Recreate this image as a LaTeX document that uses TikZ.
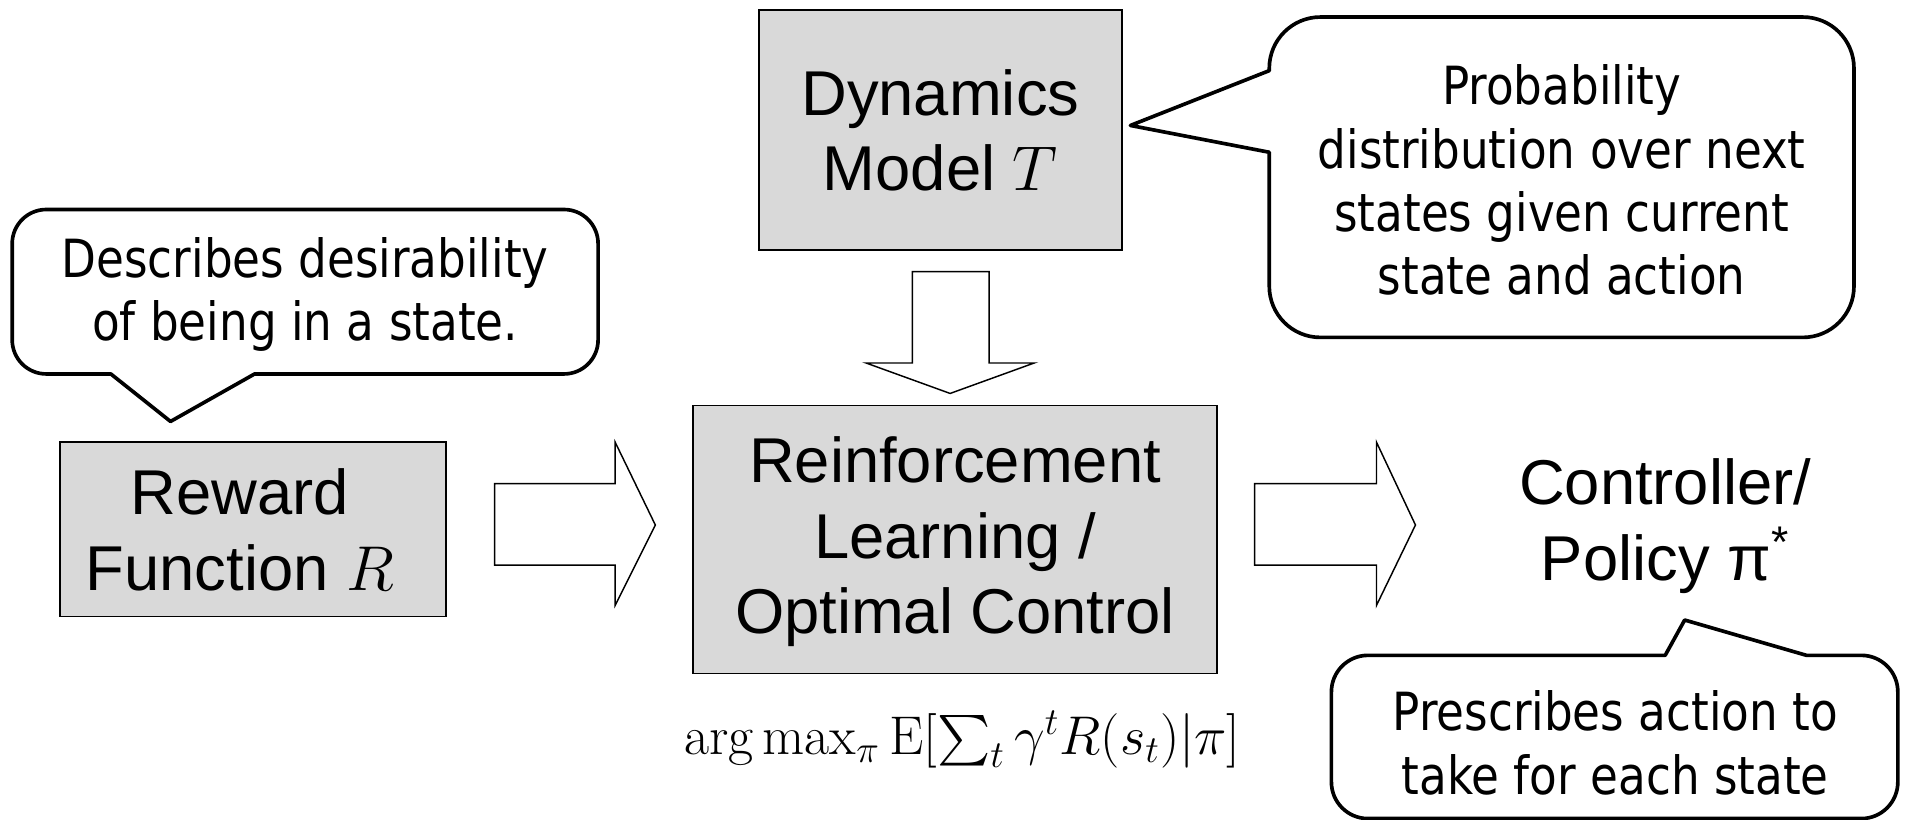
\RequirePackage{fix-cm}
\documentclass[tikz,border=0pt]{standalone}
\usepackage{exscale}
\usepackage{fontspec}
\newfontfamily\mainsf{Liberation Sans}
\newfontfamily\callfont[FakeStretch=0.86]{DejaVu Sans}
\definecolor{boxgray}{HTML}{D9D9D9}
\tikzset{
  boxnode/.style={draw=black, line width=0.7pt, fill=boxgray, inner sep=0pt},
  maintext/.style={font=\mainsf\fontsize{26}{31}\selectfont, align=center, inner sep=0pt},
  calltext/.style={font=\callfont\fontsize{21.6}{26}\selectfont, align=center, inner sep=0pt},
  callout/.style={draw=black, line width=1.5pt, fill=white, line join=round},
  blockarrow/.style={draw=black, line width=0.6pt, fill=white, line join=miter},
}
\begin{document}
\begin{tikzpicture}[x=0.5pt,y=-0.5pt]
\useasboundingbox (0,0) rectangle (1568,673);

% main boxes
\node[boxnode, minimum width=158.5pt, minimum height=71.5pt] (rewardbox) at (207.5,434.5) {};
\node[maintext] (rewardtxt) at (197,435) {Reward\\Function $R$};
\node[boxnode, minimum width=215pt, minimum height=110pt] (rlbox) at (784,443) {};
\node[maintext] (rltxt) at (784,445) {Reinforcement\\Learning /\\Optimal Control};
\node[boxnode, minimum width=149pt, minimum height=98.5pt] (dynbox) at (772,106.5) {};
\node[maintext] (dyntxt) at (772,107) {Dynamics\\Model $T$};
\node[maintext] (policy) at (1367,432) {Controller/\\Policy π\textsuperscript{*}};
\node[inner sep=0pt] (formula) at (790,607) {\fontsize{22.4}{27}\selectfont $\arg\max_\pi \mathrm{E}[\sum_t \gamma^t R(s_t)|\pi]$};

% block arrows
\draw[blockarrow] (406,397) -- (505,397) -- (505,363) -- (538,431) -- (505,497) -- (505,464) -- (406,464) -- cycle;
\draw[blockarrow] (1030,397) -- (1130,397) -- (1130,363) -- (1162,431) -- (1130,497) -- (1130,464) -- (1030,464) -- cycle;
\draw[blockarrow] (749,223) -- (812,223) -- (812,298) -- (849,298) -- (780,323) -- (711,298) -- (749,298) -- cycle;

% callouts
\draw[callout] (38,172) -- (463,172) arc(270:360:28) -- (491,279) arc(0:90:28)
  -- (209,307) -- (140,346) -- (91,307) -- (38,307) arc(90:180:28) -- (10,200) arc(180:270:28) -- cycle;
\node[calltext] (rewardnote) at (250.5,242) {Describes desirability\\of being in a state.};

\draw[callout] (1084,14) -- (1480,14) arc(270:360:42) -- (1522,235) arc(0:90:42)
  -- (1084,277) arc(90:180:42) -- (1042,125) -- (928,103) -- (1042,58) -- (1042,56) arc(180:270:42) -- cycle;
\node[calltext] (dynnote) at (1282,148) {Probability\\distribution over next\\states given current\\state and action};

\draw[callout] (1123,538) -- (1367,538) -- (1383,509) -- (1483,538) -- (1528,538) arc(270:360:30)
  -- (1558,642) arc(0:90:30) -- (1123,672) arc(90:180:30) -- (1093,568) arc(180:270:30) -- cycle;
\node[calltext] (policynote) at (1326,610) {Prescribes action to\\take for each state};
\end{tikzpicture}
\end{document}
